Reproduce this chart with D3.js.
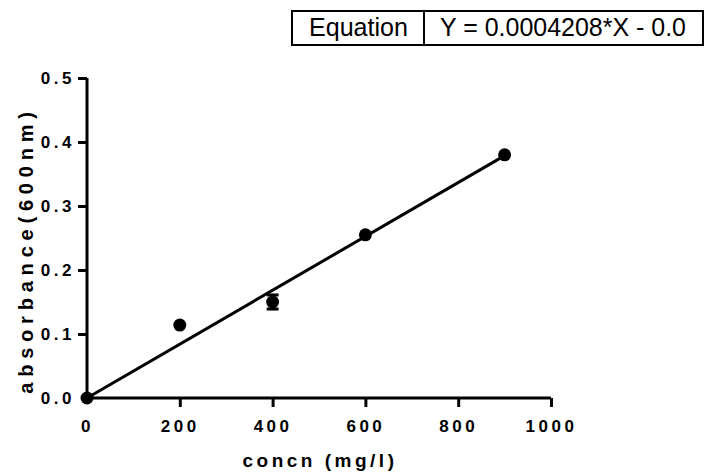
<!DOCTYPE html>
<html>
<head>
<meta charset="utf-8">
<script src="https://cdn.jsdelivr.net/npm/d3@7/dist/d3.min.js"></script>
<style>
  body { margin: 0; background: #fff; }
  text { font-family: "Liberation Sans", Arial, sans-serif; }
</style>
</head>
<body>
<div id="chart"></div>
<script>
// data
const concn = [0, 200, 400, 600, 900];
const absorb = [0.0, 0.114, 0.150, 0.255, 0.380];
const absErr = [0, 0, 0.011, 0, 0];
const xTicks = [0, 200, 400, 600, 800, 1000];
const yTicks = [0.0, 0.1, 0.2, 0.3, 0.4, 0.5];
const slope = 0.0004208;
const fitRange = [0, 900];
const eqLabel = 'Equation';
const eqText = 'Y = 0.0004208*X - 0.0';

const W = 704, H = 475;
const svg = d3.select('#chart').append('svg')
  .attr('width', W).attr('height', H);

const x = d3.scaleLinear().domain([0, 1000]).range([87, 551]);
const y = d3.scaleLinear().domain([0, 0.5]).range([398, 78]);

// axes
const xAxis = svg.append('g')
  .attr('transform', `translate(0,${y(0)})`)
  .call(d3.axisBottom(x).tickValues(xTicks).tickSize(9).tickFormat(d3.format('d')));
const yAxis = svg.append('g')
  .attr('transform', `translate(${x(0)},0)`)
  .call(d3.axisLeft(y).tickValues(yTicks).tickSize(9).tickFormat(d3.format('.1f')));

[xAxis, yAxis].forEach(g => {
  g.select('.domain').attr('stroke', '#000').attr('stroke-width', 3);
  g.selectAll('.tick line').attr('stroke', '#000').attr('stroke-width', 3);
  g.selectAll('.tick text')
    .attr('fill', '#000')
    .style('font-size', '17px')
    .style('font-weight', 'bold')
    .style('letter-spacing', '3.5px');
});
xAxis.select('.domain').attr('d', `M${x(0)},0H${x(1000)}`);
yAxis.select('.domain').attr('d', `M0,${y(0)}V${y(0.5)}`);
xAxis.selectAll('.tick').filter(d => d === 0).select('line').remove();
yAxis.selectAll('.tick').filter(d => d === 0).select('line').attr('x2', -6);
xAxis.selectAll('.tick text').attr('y', 22).attr('dy', '0.71em').attr('dx', '0px');
yAxis.selectAll('.tick text').attr('x', -12).attr('dx', '0px');

// axis titles
svg.append('text')
  .attr('x', 320).attr('y', 467)
  .attr('text-anchor', 'middle')
  .style('font-size', '19px').style('font-weight', 'bold')
  .style('letter-spacing', '3.5px')
  .text('concn (mg/l)');
svg.append('text')
  .attr('transform', `translate(33,250) rotate(-90)`)
  .attr('text-anchor', 'middle')
  .style('font-size', '20px').style('font-weight', 'bold')
  .style('letter-spacing', '5.8px')
  .text('absorbance(600nm)');

// fit line
svg.append('line')
  .attr('x1', x(fitRange[0])).attr('y1', y(slope * fitRange[0]))
  .attr('x2', x(fitRange[1])).attr('y2', y(slope * fitRange[1]))
  .attr('stroke', '#000').attr('stroke-width', 3);

// error bars
const pts = concn.map((c, i) => ({ c, a: absorb[i], e: absErr[i] }));
const eb = svg.append('g');
pts.filter(d => d.e > 0).forEach(d => {
  eb.append('line')
    .attr('x1', x(d.c)).attr('x2', x(d.c))
    .attr('y1', y(d.a - d.e)).attr('y2', y(d.a + d.e))
    .attr('stroke', '#000').attr('stroke-width', 3);
  [d.a - d.e, d.a + d.e].forEach(v => {
    eb.append('line')
      .attr('x1', x(d.c) - 6).attr('x2', x(d.c) + 6)
      .attr('y1', y(v)).attr('y2', y(v))
      .attr('stroke', '#000').attr('stroke-width', 3);
  });
});

// points
svg.append('g').selectAll('circle')
  .data(pts)
  .join('circle')
  .attr('cx', d => x(d.c))
  .attr('cy', d => y(d.a))
  .attr('r', 6.5)
  .attr('fill', '#000');

// equation box
const box = svg.append('g');
box.append('rect')
  .attr('x', 292).attr('y', 11).attr('width', 411).attr('height', 34)
  .attr('fill', 'none').attr('stroke', '#000').attr('stroke-width', 2);
box.append('line')
  .attr('x1', 424).attr('x2', 424).attr('y1', 11).attr('y2', 45)
  .attr('stroke', '#000').attr('stroke-width', 2);
box.append('text')
  .attr('x', 309).attr('y', 36)
  .attr('textLength', 99).attr('lengthAdjust', 'spacingAndGlyphs')
  .style('font-size', '25px')
  .text(eqLabel);
box.append('text')
  .attr('x', 440).attr('y', 36)
  .attr('textLength', 246).attr('lengthAdjust', 'spacingAndGlyphs')
  .style('font-size', '25px')
  .text(eqText);
</script>
</body>
</html>
